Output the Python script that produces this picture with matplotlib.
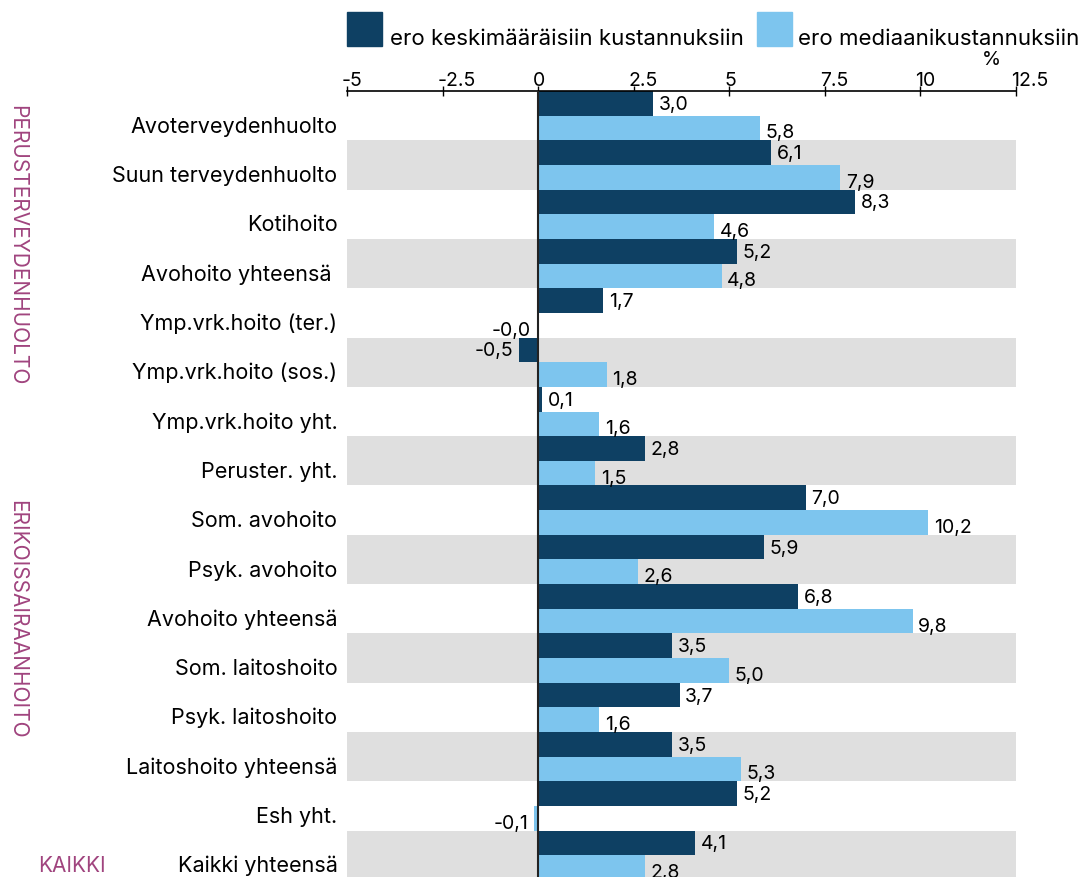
import numpy as np
import matplotlib
matplotlib.use("Agg")
import matplotlib.pyplot as plt
from matplotlib.patches import Rectangle
from matplotlib.transforms import ScaledTranslation

plt.rcParams["font.family"] = ["Inter", "DejaVu Sans"]
plt.rcParams["axes.unicode_minus"] = False

categories = ["Avoterveydenhuolto", "Suun terveydenhuolto", "Kotihoito", "Avohoito yhteensä ",
              "Ymp.vrk.hoito (ter.)", "Ymp.vrk.hoito (sos.)", "Ymp.vrk.hoito yht.", "Peruster. yht.",
              "Som. avohoito", "Psyk. avohoito", "Avohoito yhteensä", "Som. laitoshoito",
              "Psyk. laitoshoito", "Laitoshoito yhteensä", "Esh yht.", "Kaikki yhteensä"]
eroKeskiarvo = [3.0, 6.1, 8.3, 5.2, 1.7, -0.5, 0.1, 2.8, 7.0, 5.9, 6.8, 3.5, 3.7, 3.5, 5.2, 4.1]
eroMediaani  = [5.8, 7.9, 4.6, 4.8, -0.04, 1.8, 1.6, 1.5, 10.2, 2.6, 9.8, 5.0, 1.6, 5.3, -0.1, 2.8]
seriesNames  = ["ero keskimääräisiin kustannuksiin", "ero mediaanikustannuksiin"]
groups       = [("PERUSTERVEYDENHUOLTO", 2.6), ("ERIKOISSAIRAANHOITO", 10.2)]
xTicks       = [-5, -2.5, 0, 2.5, 5, 7.5, 10, 12.5]
xTickLabels  = ["-5", "-2.5", "0", "2.5", "5", "7.5", "10", "12.5"]

darkColor  = "#0e4063"
lightColor = "#7dc5ee"
bandColor  = "#dfdfdf"
groupColor = "#a0447e"

figure = plt.figure(figsize=(10.81, 8.78), dpi=100)
axis   = figure.add_axes([347/1081, 0.0, (1016-347)/1081, 1-92/878])

y = np.arange(len(categories))

# Alternating gray row bands.
for i in y[1::2]:
    axis.axhspan(i-0.5, i+0.5, color=bandColor, lw=0, zorder=0)

axis.barh(y-0.25, eroKeskiarvo, height=0.5, color=darkColor, zorder=2)
axis.barh(y+0.25, eroMediaani, height=0.5, color=lightColor, zorder=2)
axis.axvline(0, color="#222222", lw=1.5, zorder=3)

def Fmt(v):
    return ("%.1f" % v).replace(".", ",")

for i in y:
    for value, offset in ((eroKeskiarvo[i], -0.24), (eroMediaani[i], 0.34)):
        if value >= 0:
            axis.annotate(Fmt(value), (value, i+offset), xytext=(4, 0), textcoords="offset points",
                          ha="left", va="center", fontsize=14, zorder=4)
        else:
            axis.annotate(Fmt(value), (value, i+offset), xytext=(-4, 0), textcoords="offset points",
                          ha="right", va="center", fontsize=14, zorder=4)

axis.set_xlim(-5, 12.5)
axis.set_ylim(15.44, -0.5)
axis.set_yticks([])

axis.xaxis.tick_top()
axis.set_xticks(xTicks)
axis.set_xticklabels(xTickLabels, fontsize=14)
axis.tick_params(axis="x", direction="inout", length=6.5, width=1, pad=-2)
shift = ScaledTranslation(-5/100, 0, figure.dpi_scale_trans)
for label in axis.get_xticklabels():
    label.set_ha("left")
    label.set_transform(label.get_transform() + shift)
for side in ("left", "right", "bottom"):
    axis.spines[side].set_visible(False)
axis.spines["top"].set_linewidth(1.2)

# Category labels.
for i, name in enumerate(categories):
    axis.text(-5.25, i+0.2, name, ha="right", va="center", fontsize=15.5, clip_on=False)

# Group labels.
for name, center in groups:
    axis.text(-13.63, center, name, rotation=270, ha="center", va="center",
              fontsize=15, color=groupColor, clip_on=False)
axis.text(-12.19, 15.2, "KAIKKI", ha="center", va="center", fontsize=15, color=groupColor, clip_on=False)

figure.text(991/1081, 1-60/878, "%", ha="center", va="center", fontsize=14)

# Legend.
figure.add_artist(Rectangle((347/1081, 1-47/878), 35/1081, 34/878, color=darkColor, transform=figure.transFigure))
figure.text(390/1081, 1-39/878, seriesNames[0], ha="left", va="center", fontsize=16)
figure.add_artist(Rectangle((757/1081, 1-47/878), 35/1081, 34/878, color=lightColor, transform=figure.transFigure))
figure.text(798/1081, 1-39/878, seriesNames[1], ha="left", va="center", fontsize=16)

figure.savefig("out.png", dpi=100)
